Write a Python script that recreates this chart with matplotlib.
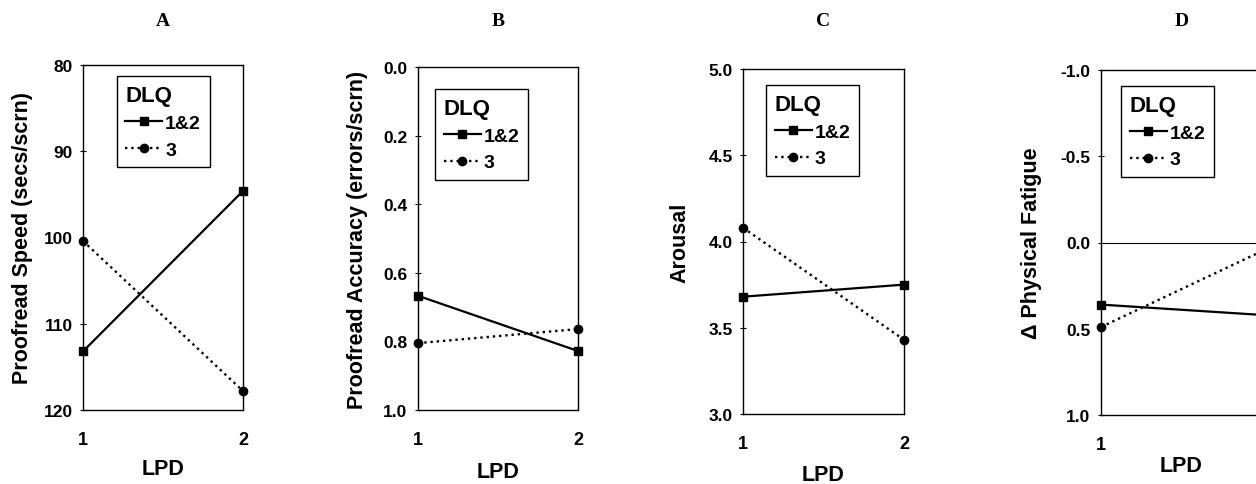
import numpy as np
import matplotlib
matplotlib.use('Agg')
import matplotlib.pyplot as plt

# Datos
lpd = [1, 2]
speed_12 = [113.2, 94.6]
speed_3 = [100.4, 117.8]
acc_12 = [0.667, 0.828]
acc_3 = [0.805, 0.764]
arousal_12 = [3.68, 3.75]
arousal_3 = [4.08, 3.43]
fatigue_12 = [0.36, 0.42]
fatigue_3 = [0.49, 0.05]

panels = ['A', 'B', 'C', 'D']
ylabels = ['Proofread Speed (secs/scrn)', 'Proofread Accuracy (errors/scrn)',
           'Arousal', '\u0394 Physical Fatigue']
ylims = [(120, 80), (1.0, 0.0), (3.0, 5.0), (1.0, -1.0)]
yticks = [np.arange(80, 121, 10), np.arange(0, 1.01, 0.2),
          np.arange(3, 5.01, 0.5), np.arange(-1, 1.01, 0.5)]
yfmt = ['{:.0f}', '{:.1f}', '{:.1f}', '{:.1f}']
series = [(speed_12, speed_3), (acc_12, acc_3),
          (arousal_12, arousal_3), (fatigue_12, fatigue_3)]

# posiciones en pixeles: izquierda, derecha, arriba, abajo
boxes = [(83, 243, 66, 411), (418, 578, 68, 411),
         (743, 904, 70, 415), (1101, 1262, 71, 416)]
leg_pos = [(0.21, 0.968), (0.106, 0.936), (0.143, 0.954), (0.124, 0.954)]
ylab_x = [23, 357, 680, 1032]
xlab_y = [470, 473, 476, 467]

W, H = 1256, 485
fig = plt.figure(figsize=(W / 100, H / 100), dpi=100)
sans = 'Liberation Sans'

for i in range(4):
    l, r, t, b = boxes[i]
    ax = fig.add_axes([l / W, (H - b) / H, (r - l) / W, (b - t) / H])
    s12, s3 = series[i]
    ax.plot(lpd, s12, '-', color='black', lw=1.6, marker='s', ms=6,
            clip_on=False, label='1&2')
    ax.plot(lpd, s3, ':', color='black', lw=1.7, marker='o', ms=6,
            clip_on=False, label='3')
    if i == 3:
        ax.axhline(0, color='black', lw=0.8)
    ax.set_xlim(1, 2)
    ax.set_ylim(*ylims[i])
    ax.set_xticks(lpd)
    ax.set_xticklabels(['1', '2'], fontfamily=sans, fontweight='bold', fontsize=13)
    ax.set_yticks(yticks[i])
    ax.set_yticklabels([yfmt[i].format(v) for v in yticks[i]],
                       fontfamily=sans, fontweight='bold', fontsize=12.5)
    ax.tick_params(axis='y', direction='inout', length=5, width=0.8, pad=5)
    ax.tick_params(axis='x', length=0, pad=15)
    for sp in ax.spines.values():
        sp.set_linewidth(1.0)
    fig.text(ylab_x[i] / W, (H - (t + b) / 2) / H, ylabels[i], rotation=90,
             ha='center', va='center', fontfamily=sans, fontweight='bold',
             fontsize=15.5)
    fig.text((l + r) / 2 / W, (H - xlab_y[i]) / H, 'LPD', ha='center',
             va='center', fontfamily=sans, fontweight='bold', fontsize=15.5)
    fig.text((l + r) / 2 / W, (H - 21) / H, panels[i], ha='center', va='center',
             fontfamily='Liberation Serif', fontweight='bold', fontsize=14)
    leg = ax.legend(loc='upper left', bbox_to_anchor=leg_pos[i], title='DLQ',
                    prop={'family': sans, 'weight': 'bold', 'size': 14},
                    title_fontproperties={'family': sans, 'weight': 'bold',
                                          'size': 16},
                    fancybox=False, edgecolor='black', framealpha=1,
                    handlelength=1.9, handletextpad=0.15, labelspacing=0.45,
                    borderpad=0.45, borderaxespad=0)
    leg.get_frame().set_linewidth(1.0)
    leg._legend_box.align = 'left'

fig.savefig('out.png', dpi=100)
